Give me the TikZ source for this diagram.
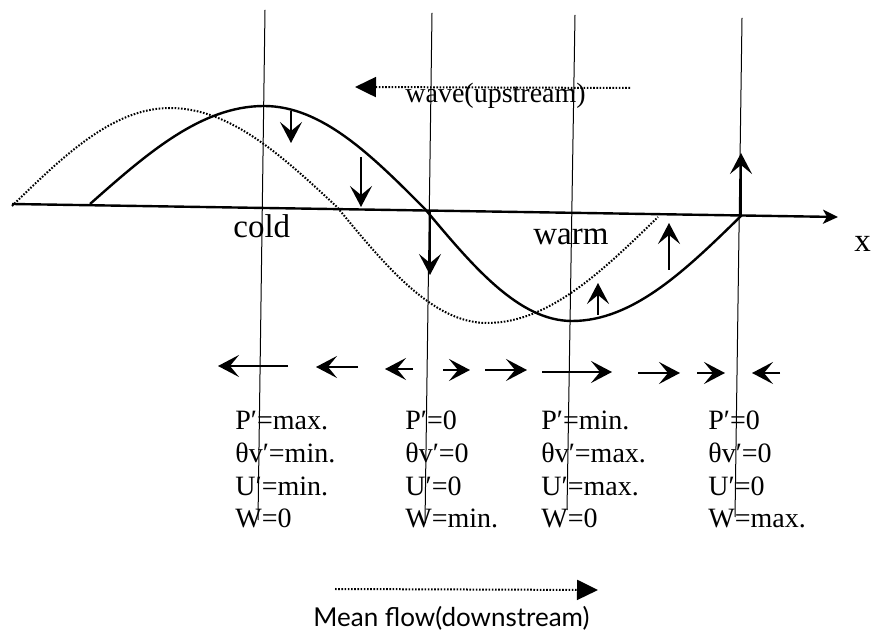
\documentclass[tikz,border=0pt]{standalone}
\usepackage{fontspec}
\setmainfont{Liberation Serif}
\newfontfamily\sanslabel{Lato}
\usetikzlibrary{arrows.meta}
\begin{document}
\begin{tikzpicture}[x=0.5pt,y=-0.5pt,
  guide/.style={line width=0.5pt},
  axisline/.style={line width=1.2pt,-{Stealth[length=7.5pt,width=7pt,inset=2pt]}},
  wavecurve/.style={line width=1.2pt},
  phasecurve/.style={line width=1pt,dash pattern=on 0.8pt off 0.8pt},
  flowarrow/.style={line width=1.1pt,-{Stealth[length=10.5pt,width=11pt,inset=4.5pt]}},
  dotarrow/.style={line width=1pt,dash pattern=on 0.8pt off 0.8pt,-{Triangle[length=10.5pt,width=10pt]}},
  lbl/.style={inner sep=0pt,anchor=base west,font=\fontsize{14}{16}\selectfont},
  biglbl/.style={inner sep=0pt,anchor=base west,font=\fontsize{16.5}{19}\selectfont},
  sanslbl/.style={inner sep=0pt,anchor=base west,font=\sanslabel\fontsize{13}{16}\selectfont}
]
\useasboundingbox (0,0) rectangle (873,635);

% vertical guide lines
\coordinate (g1t) at (265,10);  \coordinate (g1b) at (258,520);
\coordinate (g2t) at (432,13);  \coordinate (g2b) at (425,523);
\coordinate (g3t) at (575,15);  \coordinate (g3b) at (567,510);
\coordinate (g4t) at (742,18);  \coordinate (g4b) at (735,517);
\draw[guide] (g1t) -- (g1b);
\draw[guide] (g2t) -- (g2b);
\draw[guide] (g3t) -- (g3b);
\draw[guide] (g4t) -- (g4b);

% x axis
\coordinate (ax0) at (12,204);
\coordinate (ax1) at (838,217);
\draw[axisline] (ax0) -- (ax1);
\node[biglbl] (xlabel) at (854,252) {x};

% waves
\draw[wavecurve] (90,204) sin (264,106) cos (425,209) sin (572,321) cos (742,215);
\draw[phasecurve] (12,206) sin (170,108) cos (337,207) sin (487,323) cos (658,217);

\node[biglbl] (cold) at (233,238) {cold};
\node[biglbl] (warm) at (533,245) {warm};

% vertical velocity arrows
\coordinate (v1a) at (291,111); \coordinate (v1b) at (291,143);
\coordinate (v2a) at (361,157); \coordinate (v2b) at (361,207);
\coordinate (v3a) at (430,210); \coordinate (v3b) at (430,275);
\coordinate (v4a) at (598,315); \coordinate (v4b) at (598,283);
\coordinate (v5a) at (669,270); \coordinate (v5b) at (669,223);
\coordinate (v6a) at (741,215); \coordinate (v6b) at (741,153);
\foreach \i in {1,...,6}{\draw[flowarrow] (v\i a) -- (v\i b);}

% horizontal perturbation arrows
\coordinate (h1a) at (288,366); \coordinate (h1b) at (218,366);
\coordinate (h2a) at (358,367); \coordinate (h2b) at (316,367);
\coordinate (h3a) at (413,369); \coordinate (h3b) at (385,369);
\coordinate (h4a) at (443,370); \coordinate (h4b) at (470,370);
\coordinate (h5a) at (485,370); \coordinate (h5b) at (527,370);
\coordinate (h6a) at (542,372); \coordinate (h6b) at (612,372);
\coordinate (h7a) at (638,373); \coordinate (h7b) at (680,373);
\coordinate (h8a) at (697,373); \coordinate (h8b) at (725,373);
\coordinate (h9a) at (780,373); \coordinate (h9b) at (752,373);
\foreach \i in {1,...,9}{\draw[flowarrow] (h\i a) -- (h\i b);}

% column labels
\node[lbl] (c1a) at (235,430) {P′=max.};
\node[lbl] (c1b) at (235,463) {θv′=min.};
\node[lbl] (c1c) at (235,496) {U′=min.};
\node[lbl] (c1d) at (235,528) {W=0};
\node[lbl] (c2a) at (405,430) {P′=0};
\node[lbl] (c2b) at (405,463) {θv′=0};
\node[lbl] (c2c) at (405,496) {U′=0};
\node[lbl] (c2d) at (405,528) {W=min.};
\node[lbl] (c3a) at (541,430) {P′=min.};
\node[lbl] (c3b) at (541,463) {θv′=max.};
\node[lbl] (c3c) at (541,496) {U′=max.};
\node[lbl] (c3d) at (541,528) {W=0};
\node[lbl] (c4a) at (708,430) {P′=0};
\node[lbl] (c4b) at (708,463) {θv′=0};
\node[lbl] (c4c) at (708,496) {U′=0};
\node[lbl] (c4d) at (708,528) {W=max.};

% wave propagation
\coordinate (wt) at (630,88);
\coordinate (wh) at (355,87);
\draw[dotarrow] (wt) -- (wh);
\node[lbl] (wave) at (405,103) {wave(upstream)};

% mean flow
\coordinate (mt) at (335,589);
\coordinate (mh) at (598,590);
\draw[dotarrow] (mt) -- (mh);
\node[sanslbl] (mean) at (313,627) {Mean flow(downstream)};
\end{tikzpicture}
\end{document}
